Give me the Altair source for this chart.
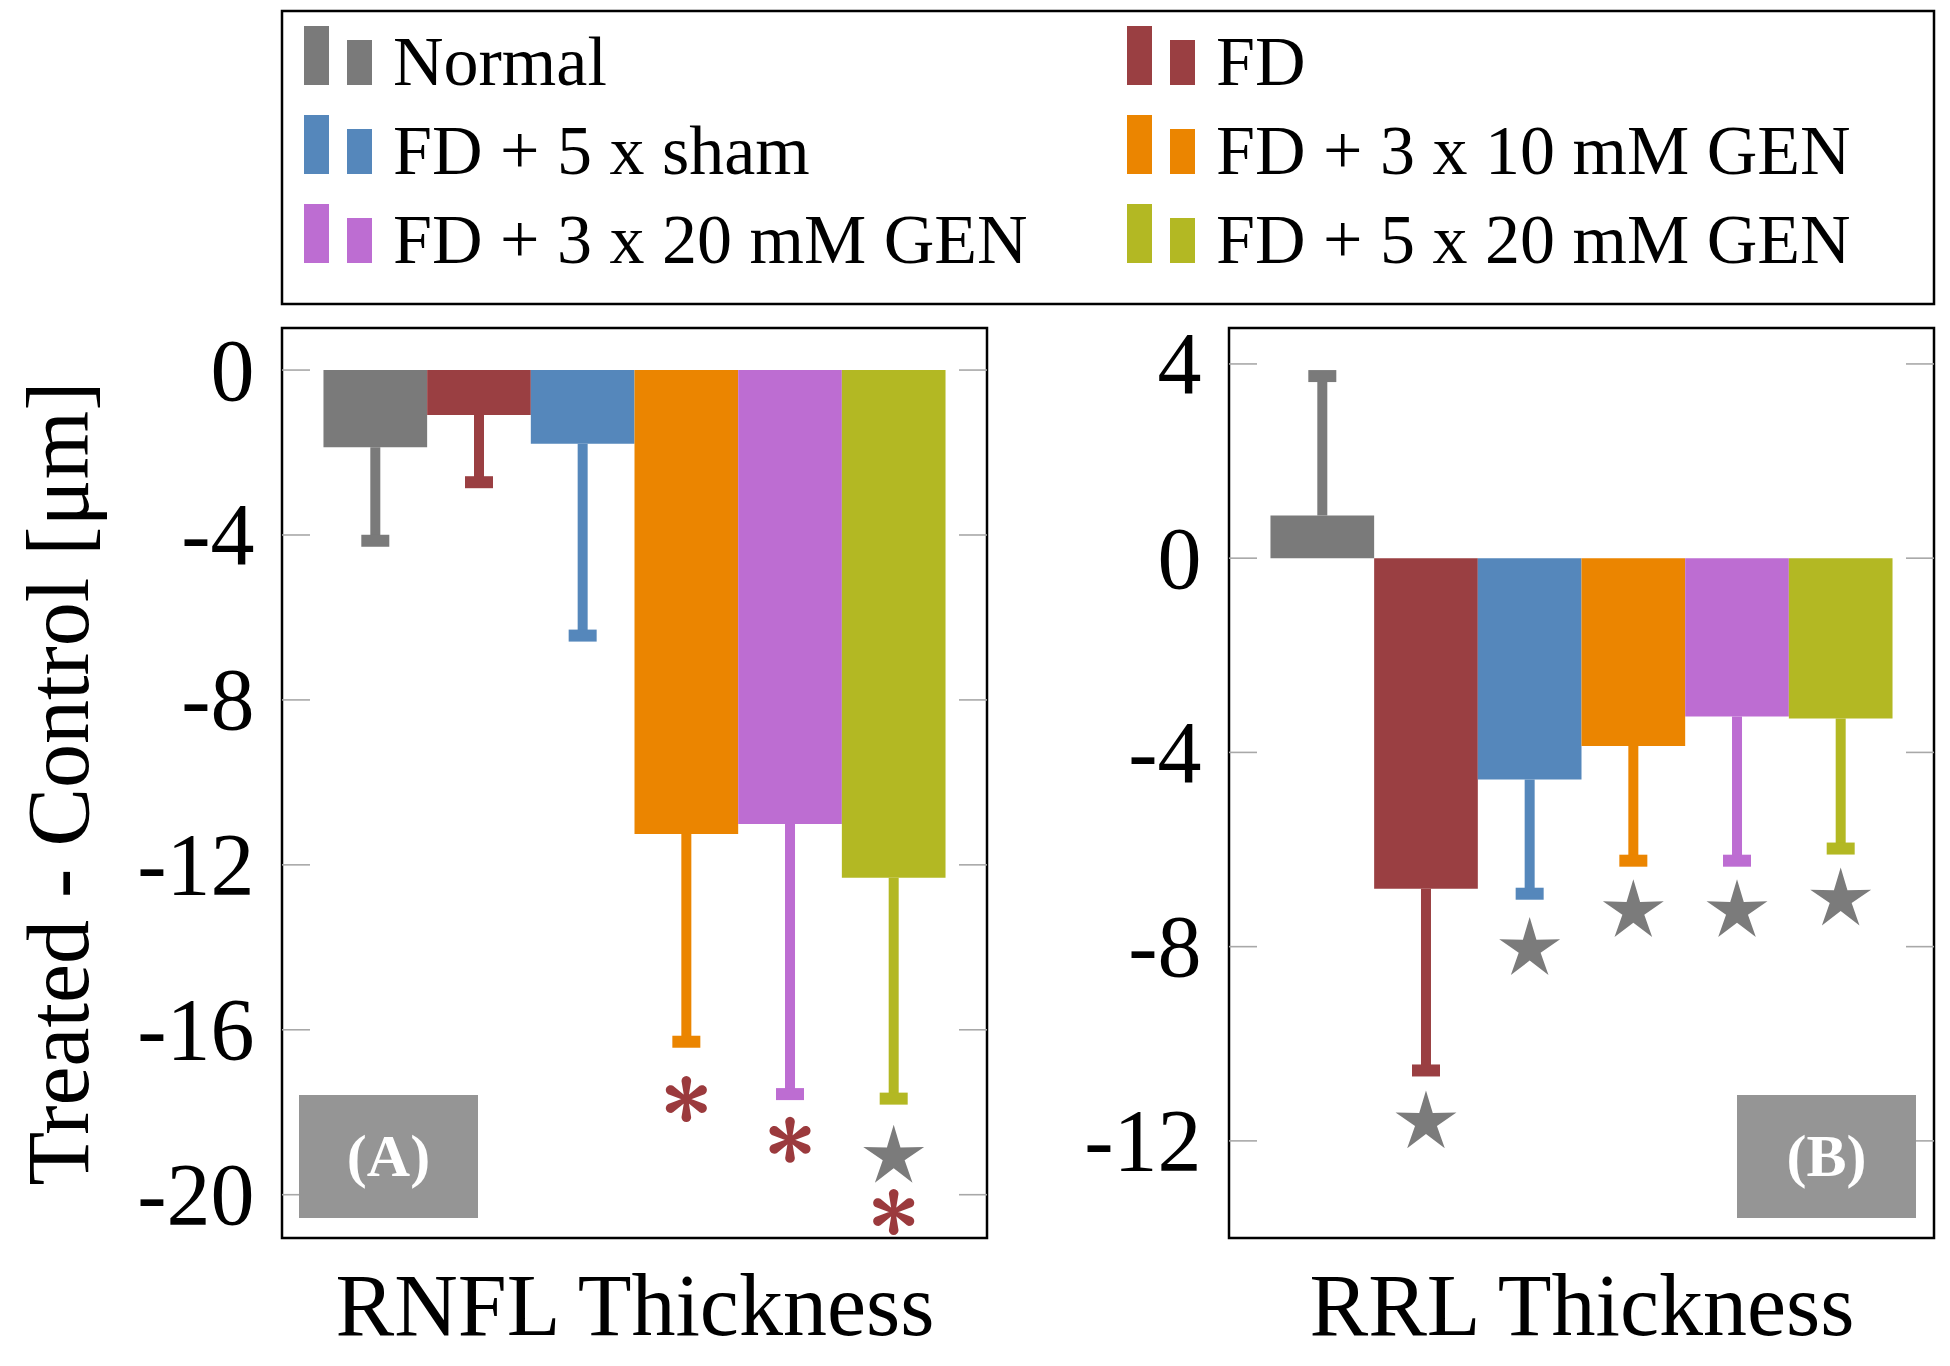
import math
import altair as alt
import pandas as pd

# ---------------- data ----------------
categories = [
    "Normal",
    "FD",
    "FD + 5 x sham",
    "FD + 3 x 10 mM GEN",
    "FD + 3 x 20 mM GEN",
    "FD + 5 x 20 mM GEN",
]
colors = ["#7a7a7a", "#9a3f42", "#5587bb", "#eb8500", "#bd6dd2", "#b3b823"]

rnfl_mean = [-1.87, -1.09, -1.79, -11.25, -11.01, -12.31]
rnfl_err = [-4.14, -2.72, -6.44, -16.29, -17.56, -17.67]
rrl_mean = [0.88, -6.81, -4.56, -3.87, -3.26, -3.30]
rrl_err = [3.75, -10.55, -6.91, -6.23, -6.23, -5.98]

# significance markers
rnfl_mark_cat = ["FD + 3 x 10 mM GEN", "FD + 3 x 20 mM GEN", "FD + 5 x 20 mM GEN", "FD + 5 x 20 mM GEN"]
rnfl_mark_y = [-17.68, -18.67, -19.08, -20.42]
rnfl_mark_kind = ["asterisk", "asterisk", "star", "asterisk"]
rrl_mark_cat = ["FD", "FD + 5 x sham", "FD + 3 x 10 mM GEN", "FD + 3 x 20 mM GEN", "FD + 5 x 20 mM GEN"]
rrl_mark_y = [-11.62, -8.05, -7.27, -7.27, -7.03]
rrl_mark_kind = ["star", "star", "star", "star", "star"]

rnfl_ticks = [0, -4, -8, -12, -16, -20]
rrl_ticks = [4, 0, -4, -8, -12]
rnfl_domain = [-21.05, 1.02]
rrl_domain = [-14.0, 4.74]

# ---------------- style ----------------
FONT = "Liberation Serif"
W, H = 705, 910
TICK_LEN = 28
STAR_COLOR = "#7b7b7b"
AST_COLOR = "#9b3a3d"
TAG_COLOR = "#959595"


def star_path(inner=0.36):
    pts = []
    for k in range(10):
        r = 1.0 if k % 2 == 0 else inner
        a = math.radians(-90 + 36 * k)
        pts.append(f"{r * math.cos(a):.4f},{r * math.sin(a):.4f}")
    return "M" + "L".join(pts) + "Z"


def asterisk_path(w0=0.08, w1=0.21, n=8):
    parts = []
    L = 1 - w1
    for k in range(6):
        a = math.radians(-90 + 60 * k)
        ux, uy = math.cos(a), math.sin(a)
        px, py = -uy, ux
        pts = [(px * w0, py * w0)]
        cx, cy = ux * L, uy * L
        for j in range(n + 1):
            t = math.pi / 2 - math.pi * j / n
            dx = math.cos(t) * ux + math.sin(t) * px
            dy = math.cos(t) * uy + math.sin(t) * py
            pts.append((cx + w1 * dx, cy + w1 * dy))
        pts.append((-px * w0, -py * w0))
        parts.append("M" + "L".join(f"{x:.4f},{y:.4f}" for x, y in pts) + "Z")
    return "".join(parts)


STAR = star_path()
AST = asterisk_path()

color_enc = alt.Color("cat:N", scale=alt.Scale(domain=categories, range=colors), legend=None)


def panel(means, errs, mk_cat, mk_y, mk_kind, ticks, domain, xtitle, ytitle, tag, tag_x):
    df = pd.DataFrame({"cat": categories, "mean": means, "err": errs})
    mk = pd.DataFrame({"cat": mk_cat, "y": mk_y, "kind": mk_kind})
    tk = pd.DataFrame({"t": ticks})
    ysc = alt.Scale(domain=domain, nice=False, zero=False)
    xsc = alt.Scale(domain=categories, paddingInner=0, paddingOuter=0.4)
    x_axis = alt.Axis(
        title=xtitle, labels=False, ticks=False, domain=False, grid=False,
        titleFont=FONT, titleFontSize=88, titleFontWeight="normal",
        titleColor="black", titlePadding=26,
    )
    y_axis = alt.Axis(
        values=ticks, ticks=False, domain=False, grid=False,
        labelFont=FONT, labelFontSize=88, labelColor="black", labelPadding=28,
        labelOverlap=False, labelExpr="'' + datum.value", labelOffset=3,
        title=ytitle, titleFont=FONT, titleFontSize=88, titleFontWeight="normal",
        titleColor="black", titlePadding=31,
    )
    xa = alt.X("cat:N", scale=xsc, axis=x_axis)

    def yq(field):
        return alt.Y(field, scale=ysc, axis=y_axis)

    left_ticks = alt.Chart(tk).mark_rule(color="#a8a8a8", strokeWidth=1.6).encode(
        y=yq("t:Q"), x=alt.value(0), x2=alt.value(TICK_LEN)
    )
    right_ticks = alt.Chart(tk).mark_rule(color="#a8a8a8", strokeWidth=1.6).encode(
        y=yq("t:Q"), x=alt.value(W - TICK_LEN), x2=alt.value(W)
    )
    bars = alt.Chart(df).mark_bar(opacity=1).encode(
        x=xa, y=yq("mean:Q"), y2=alt.datum(0), color=color_enc
    )
    rules = alt.Chart(df).mark_rule(strokeWidth=10, opacity=1).encode(
        x=xa, y=yq("mean:Q"), y2="err:Q", color=color_enc
    )
    caps = alt.Chart(df).mark_tick(size=28, thickness=12, opacity=1).encode(
        x=xa, y=yq("err:Q"), color=color_enc
    )
    stars = (
        alt.Chart(mk)
        .transform_filter("datum.kind == 'star'")
        .mark_point(shape=STAR, filled=True, size=4096, color=STAR_COLOR, opacity=1, strokeWidth=0)
        .encode(x=xa, y=yq("y:Q"))
    )
    asts = (
        alt.Chart(mk)
        .transform_filter("datum.kind == 'asterisk'")
        .mark_point(shape=AST, filled=True, size=2116, color=AST_COLOR, opacity=1, strokeWidth=0)
        .encode(x=xa, y=yq("y:Q"))
    )
    tag_df = pd.DataFrame({"label": [tag]})
    box = alt.Chart(tag_df).mark_rect(color=TAG_COLOR, opacity=1).encode(
        x=alt.value(tag_x), x2=alt.value(tag_x + 179), y=alt.value(767), y2=alt.value(890)
    )
    txt = alt.Chart(tag_df).mark_text(
        font=FONT, fontSize=60, fontWeight="bold", color="white", align="center", baseline="middle"
    ).encode(x=alt.value(tag_x + 89.5), y=alt.value(830), text="label:N")

    return alt.layer(bars, left_ticks, right_ticks, rules, caps, stars, asts, box, txt).properties(
        width=W, height=H
    )


pA = panel(rnfl_mean, rnfl_err, rnfl_mark_cat, rnfl_mark_y, rnfl_mark_kind, rnfl_ticks,
           rnfl_domain, "RNFL Thickness", "Treated - Control [μm]", "(A)", 17)
pB = panel(rrl_mean, rrl_err, rrl_mark_cat, rrl_mark_y, rrl_mark_kind, rrl_ticks,
           rrl_domain, "RRL Thickness", None, "(B)", W - 18 - 179)

# ---------------- legend ----------------
leg = pd.DataFrame({
    "cat": categories,
    "col": [i % 2 for i in range(len(categories))],
    "row": [i // 2 for i in range(len(categories))],
})
lx = alt.X("col:Q", scale=alt.Scale(domain=[0, 1], range=[22, 845]), axis=None)
ly = alt.Y("row:Q", scale=alt.Scale(domain=[0, 2], range=[74, 252]), axis=None)
sym_tall = alt.Chart(leg).mark_rect(opacity=1, x2Offset=25, yOffset=-59).encode(
    x=lx, x2="col:Q", y=ly, y2="row:Q", color=color_enc
)
sym_short = alt.Chart(leg).mark_rect(opacity=1, xOffset=43, x2Offset=68, yOffset=-45).encode(
    x=lx, x2="col:Q", y=ly, y2="row:Q", color=color_enc
)
leg_text = alt.Chart(leg).mark_text(
    align="left", baseline="alphabetic", dx=89, font=FONT, fontSize=70, color="black"
).encode(x=lx, y=ly, text="cat:N")
legend = alt.layer(sym_tall, sym_short, leg_text).properties(width=1652, height=293)

chart = (
    alt.vconcat(
        legend,
        alt.hconcat(pA, pB, spacing=242, bounds="flush"),
        spacing=24,
        bounds="flush",
    )
    .configure_view(stroke="black", strokeWidth=2.5)
    .properties(padding={"left": 8, "top": 1, "right": 0, "bottom": 0})
)

chart.save("out.html", embed_options={"renderer": "svg", "actions": False})
